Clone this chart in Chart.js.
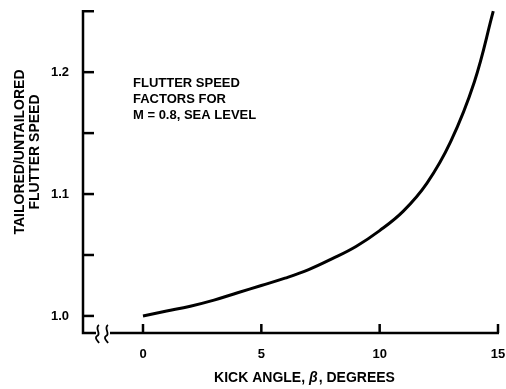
<!DOCTYPE html>
<html>
<head>
<meta charset="utf-8">
<script src="https://cdn.jsdelivr.net/npm/chart.js@4"></script>
<style>
  body { margin: 0; background: #fff; }
  canvas { display: block; }
</style>
</head>
<body>
<canvas id="chart" width="506" height="389"></canvas>
<script>
// kick angle (deg) and flutter speed ratio
var beta = [0, 1, 2, 3, 4, 5, 6, 7, 8, 9, 10, 11, 12, 13, 14, 14.8];
var ratio = [1.000, 1.004, 1.008, 1.013, 1.019, 1.025, 1.031, 1.038, 1.047, 1.057, 1.070, 1.086, 1.109, 1.143, 1.192, 1.250];

var xTicks = [0, 5, 10, 15];
var yTicks = [1.0, 1.05, 1.1, 1.15, 1.2, 1.25];
var yLabels = {"1": "1.0", "1.1": "1.1", "1.2": "1.2"};

var note = ["FLUTTER SPEED", "FACTORS FOR", "M = 0.8, SEA LEVEL"];
var yTitle = ["TAILORED/UNTAILORED", "FLUTTER SPEED"];

var pts = [];
for (var i = 0; i < beta.length; i++) {
  pts.push({x: beta[i], y: ratio[i]});
}

var fontFam = '"Liberation Sans", Arial, sans-serif';

// axes, ticks, break mark and the text blocks
var decor = {
  id: 'decor',
  afterDraw: function(chart) {
    var ctx = chart.ctx;
    var a = chart.chartArea;
    var xs = chart.scales.x;
    var ys = chart.scales.y;
    ctx.save();
    ctx.strokeStyle = '#000';
    ctx.fillStyle = '#000';
    ctx.lineWidth = 2.5;
    ctx.lineCap = 'butt';

    ctx.beginPath();
    ctx.moveTo(a.left, a.top);
    ctx.lineTo(a.left, a.bottom);
    ctx.lineTo(a.left + 13, a.bottom);
    ctx.stroke();

    // axis break
    ctx.lineWidth = 1.8;
    [a.left + 14, a.left + 23].forEach(function(bx) {
      ctx.beginPath();
      ctx.moveTo(bx + 2, a.bottom - 8);
      ctx.bezierCurveTo(bx - 3, a.bottom - 5, bx + 5, a.bottom + 1, bx, a.bottom + 3);
      ctx.bezierCurveTo(bx - 3, a.bottom + 5, bx + 1, a.bottom + 8, bx + 2, a.bottom + 10);
      ctx.stroke();
    });

    ctx.lineWidth = 2.5;
    ctx.beginPath();
    ctx.moveTo(a.left + 27, a.bottom);
    ctx.lineTo(a.right + 1, a.bottom);
    ctx.stroke();

    yTicks.forEach(function(v) {
      var y = ys.getPixelForValue(v);
      ctx.beginPath();
      ctx.moveTo(a.left, y);
      ctx.lineTo(a.left + 11, y);
      ctx.stroke();
    });
    xTicks.forEach(function(v) {
      var x = xs.getPixelForValue(v);
      ctx.beginPath();
      ctx.moveTo(x, a.bottom);
      ctx.lineTo(x, a.bottom - 9);
      ctx.stroke();
    });

    // note inside the plot
    ctx.font = 'bold 13px ' + fontFam;
    ctx.textAlign = 'left';
    ctx.textBaseline = 'middle';
    note.forEach(function(t, k) {
      ctx.fillText(t, 133, 83 + k * 16);
    });

    // y title, two rotated lines
    ctx.font = 'bold 14px ' + fontFam;
    ctx.textAlign = 'center';
    yTitle.forEach(function(t, k) {
      ctx.save();
      ctx.translate(20 + k * 15, 152);
      ctx.rotate(-Math.PI / 2);
      ctx.fillText(t, 0, 0);
      ctx.restore();
    });

    // x title with italic beta
    var p1 = 'KICK ANGLE, ', p2 = '\u03B2', p3 = ', DEGREES';
    ctx.textAlign = 'left';
    ctx.font = 'bold 14px ' + fontFam;
    var w1 = ctx.measureText(p1).width, w3 = ctx.measureText(p3).width;
    ctx.font = 'italic bold 14px ' + fontFam;
    var w2 = ctx.measureText(p2).width;
    var x0 = 304 - (w1 + w2 + w3) / 2;
    ctx.font = 'bold 14px ' + fontFam;
    ctx.fillText(p1, x0, 378);
    ctx.font = 'italic bold 14px ' + fontFam;
    ctx.fillText(p2, x0 + w1, 378);
    ctx.font = 'bold 14px ' + fontFam;
    ctx.fillText(p3, x0 + w1 + w2 + 1, 378);
    ctx.restore();
  }
};

new Chart(document.getElementById('chart'), {
  type: 'line',
  data: {
    datasets: [{
      data: pts,
      borderColor: '#000',
      borderWidth: 3,
      pointRadius: 0,
      fill: false,
      tension: 0.4
    }]
  },
  options: {
    responsive: false,
    animation: false,
    layout: { padding: { top: 10, right: 8, left: 0, bottom: 0 } },
    plugins: { legend: { display: false }, tooltip: { enabled: false } },
    scales: {
      x: {
        type: 'linear',
        min: -2.535,
        max: 15,
        grid: { display: false },
        border: { display: false },
        afterBuildTicks: function(s) { s.ticks = xTicks.map(function(v) { return {value: v}; }); },
        afterFit: function(s) { s.height = 56; s.paddingLeft = 0; s.paddingRight = 0; },
        ticks: {
          color: '#000',
          padding: 6,
          maxRotation: 0,
          font: { family: fontFam, size: 13, weight: 'bold' }
        }
      },
      y: {
        min: 0.986,
        max: 1.251,
        grid: { display: false },
        border: { display: false },
        afterBuildTicks: function(s) { s.ticks = yTicks.map(function(v) { return {value: v}; }); },
        afterFit: function(s) { s.width = 83; s.paddingTop = 0; s.paddingBottom = 0; },
        ticks: {
          color: '#000',
          padding: 6,
          font: { family: fontFam, size: 13, weight: 'bold' },
          callback: function(v) { return yLabels[String(Math.round(v * 100) / 100)] || ''; }
        }
      }
    }
  },
  plugins: [decor]
});
</script>
</body>
</html>
